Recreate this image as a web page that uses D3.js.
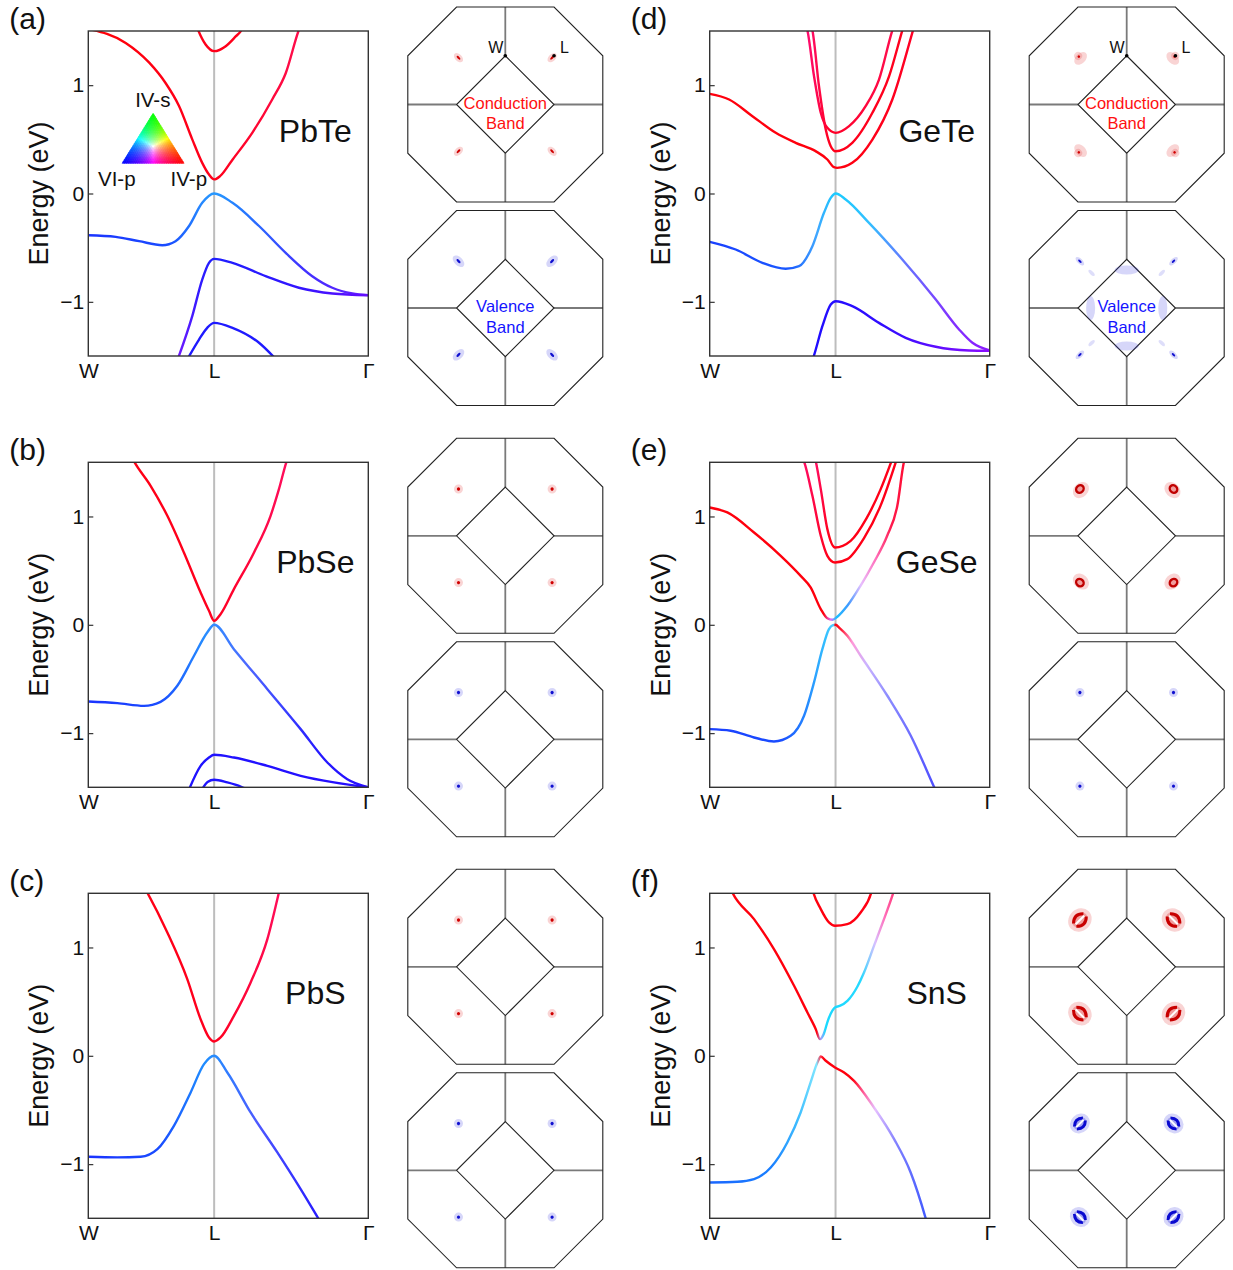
<!DOCTYPE html>
<html>
<head>
<meta charset="utf-8">
<script src="https://cdn.jsdelivr.net/npm/d3@7"></script>
<style>
  body { margin: 0; background: #fff; }
  text { font-family: "Liberation Sans", Arial, sans-serif; }
</style>
</head>
<body>
<div id="container"></div>
<script>
// k-path positions (2pi/a units): W -> L -> Gamma
const kW = 0, kL = 0.707, kG = 1.573;
const kTicks = [kW, kL, kG];
const kLabels = ["W", "L", "Γ"];
const energyTicks = [-1, 0, 1];
const energyRange = [-1.5, 1.5];

// bands: pts = [k, E(eV)], mix = [k, IV-p, IV-s, VI-p] orbital weights
const pbteBands = [
  { pts: [[0, 1.52], [0.21, 1.39], [0.341, 1.21], [0.434, 1.02], [0.509, 0.81], [0.584, 0.5], [0.64, 0.283], [0.678, 0.175], [0.707, 0.13], [0.74, 0.16], [0.809, 0.31], [0.921, 0.56], [1.034, 0.87], [1.109, 1.11], [1.183, 1.51], [1.195, 1.56]],
    mix: [[0, 1, 0, 0.02], [0.6, 1, 0, 0.1], [0.707, 1, 0, 0.1], [1.2, 1, 0.05, 0.3]] },
  { pts: [[0.605, 1.56], [0.618, 1.505], [0.659, 1.375], [0.707, 1.314], [0.772, 1.36], [0.828, 1.45], [0.861, 1.51], [0.875, 1.56]],
    mix: [[0.6, 1, 0, 0.1], [0.9, 1, 0, 0.1]] },
  { pts: [[0, -0.385], [0.154, -0.4], [0.285, -0.44], [0.416, -0.477], [0.49, -0.44], [0.566, -0.3], [0.64, -0.086], [0.707, 0], [0.81, -0.086], [0.959, -0.3], [1.109, -0.548], [1.258, -0.763], [1.371, -0.87], [1.483, -0.923], [1.573, -0.938]],
    mix: [[0, 0.1, 0.2, 1], [0.45, 0.1, 0.3, 1], [0.65, 0.15, 0.55, 1], [0.707, 0.15, 0.6, 1], [0.9, 0.15, 0.45, 1], [1.2, 0.25, 0.2, 1], [1.573, 0.4, 0.1, 1]] },
  { pts: [[0.498, -1.55], [0.584, -1.132], [0.64, -0.794], [0.678, -0.64], [0.707, -0.603], [0.81, -0.64], [0.996, -0.763], [1.183, -0.87], [1.371, -0.923], [1.573, -0.94]],
    mix: [[0.5, 0.45, 0.1, 1], [0.62, 0.2, 0.1, 1], [0.707, 0.12, 0.12, 1], [1.2, 0.2, 0.08, 1], [1.573, 0.4, 0.05, 1]] },
  { pts: [[0.56, -1.52], [0.622, -1.348], [0.668, -1.24], [0.707, -1.194], [0.81, -1.24], [0.959, -1.378], [1.06, -1.54]],
    mix: [[0.5, 0.12, 0.1, 1], [1.1, 0.12, 0.1, 1]] },
];

const pbseBands = [
  { pts: [[0.24, 1.56], [0.257, 1.508], [0.35, 1.283], [0.444, 1.006], [0.537, 0.668], [0.631, 0.298], [0.678, 0.129], [0.707, 0.037], [0.743, 0.098], [0.818, 0.329], [0.931, 0.668], [1.024, 1.006], [1.071, 1.252], [1.114, 1.508], [1.125, 1.56]],
    mix: [[0.2, 1, 0, 0.08], [0.707, 1, 0, 0.12], [1.1, 1, 0.05, 0.35]] },
  { pts: [[0, -0.708], [0.163, -0.723], [0.313, -0.748], [0.406, -0.711], [0.5, -0.563], [0.594, -0.286], [0.668, -0.071], [0.707, 0], [0.818, -0.225], [1.006, -0.594], [1.193, -0.963], [1.343, -1.271], [1.455, -1.425], [1.573, -1.5]],
    mix: [[0, 0.1, 0.2, 1], [0.4, 0.1, 0.3, 1], [0.65, 0.15, 0.55, 1], [0.707, 0.2, 0.55, 1], [0.9, 0.3, 0.4, 1], [1.3, 0.15, 0.1, 1], [1.573, 0.15, 0.05, 1]] },
  { pts: [[0.558, -1.55], [0.631, -1.302], [0.678, -1.225], [0.707, -1.2], [0.818, -1.225], [1.006, -1.302], [1.193, -1.394], [1.38, -1.455], [1.573, -1.5]],
    mix: [[0.5, 0.12, 0.08, 1], [1.573, 0.15, 0.05, 1]] },
  { pts: [[0.635, -1.53], [0.67, -1.45], [0.707, -1.43], [0.781, -1.455], [0.859, -1.495], [0.88, -1.51]],
    mix: [[0.6, 0.12, 0.08, 1], [0.9, 0.12, 0.08, 1]] },
];

const pbsBands = [
  { pts: [[0.31, 1.57], [0.331, 1.508], [0.444, 1.138], [0.556, 0.708], [0.631, 0.338], [0.678, 0.169], [0.707, 0.132], [0.743, 0.169], [0.818, 0.369], [0.912, 0.677], [1.006, 1.077], [1.071, 1.508], [1.08, 1.57]],
    mix: [[0.3, 1, 0, 0.08], [0.707, 1, 0, 0.12], [1.08, 1, 0.05, 0.35]] },
  { pts: [[0, -0.932], [0.163, -0.938], [0.294, -0.932], [0.388, -0.862], [0.481, -0.646], [0.575, -0.338], [0.65, -0.077], [0.707, 0], [0.781, -0.154], [0.912, -0.523], [1.062, -0.892], [1.193, -1.231], [1.291, -1.498], [1.31, -1.55]],
    mix: [[0, 0.1, 0.2, 1], [0.4, 0.1, 0.3, 1], [0.65, 0.12, 0.55, 1], [0.707, 0.15, 0.55, 1], [0.95, 0.3, 0.35, 1], [1.3, 0.15, 0.1, 1]] },
];

const geteBands = [
  { pts: [[0, 0.92], [0.109, 0.868], [0.24, 0.714], [0.371, 0.56], [0.483, 0.468], [0.595, 0.391], [0.661, 0.314], [0.698, 0.243], [0.716, 0.237], [0.801, 0.283], [0.914, 0.498], [1.026, 0.868], [1.142, 1.505], [1.15, 1.55]],
    mix: [[0, 1, 0, 0.05], [0.707, 1, 0, 0.05], [1.15, 1, 0, 0.15]] },
  { pts: [[0.57, 1.55], [0.577, 1.505], [0.614, 0.99], [0.652, 0.59], [0.68, 0.437], [0.708, 0.39], [0.801, 0.468], [0.914, 0.745], [1.008, 1.083], [1.082, 1.505], [1.09, 1.55]],
    mix: [[0.57, 1, 0.05, 0.4], [0.68, 1, 0, 0.1], [1.09, 1, 0, 0.12]] },
  { pts: [[0.542, 1.55], [0.549, 1.505], [0.586, 1.083], [0.624, 0.745], [0.661, 0.606], [0.708, 0.56], [0.783, 0.622], [0.876, 0.806], [0.951, 1.052], [1.026, 1.505], [1.035, 1.55]],
    mix: [[0.54, 1, 0.05, 0.45], [0.68, 1, 0, 0.15], [1.03, 1, 0.05, 0.3]] },
  { pts: [[0, -0.446], [0.146, -0.517], [0.296, -0.64], [0.427, -0.695], [0.502, -0.671], [0.577, -0.486], [0.642, -0.178], [0.68, -0.04], [0.708, 0], [0.764, -0.055], [0.895, -0.271], [1.082, -0.609], [1.27, -0.978], [1.401, -1.255], [1.476, -1.378], [1.573, -1.449]],
    mix: [[0, 0.1, 0.25, 1], [0.45, 0.1, 0.35, 1], [0.6, 0.25, 0.65, 1], [0.708, 0.1, 0.8, 1], [0.9, 0.2, 0.75, 1], [1.1, 0.4, 0.45, 1], [1.35, 0.5, 0.2, 1], [1.573, 0.55, 0.1, 1]] },
  { pts: [[0.575, -1.55], [0.586, -1.495], [0.633, -1.225], [0.68, -1.025], [0.708, -0.994], [0.801, -1.04], [0.951, -1.194], [1.101, -1.332], [1.27, -1.415], [1.457, -1.449], [1.573, -1.452]],
    mix: [[0.57, 0.12, 0.05, 1], [1.0, 0.2, 0.05, 1], [1.573, 0.55, 0.05, 1]] },
];

const geseBands = [
  { pts: [[0, 1.083], [0.099, 1.037], [0.249, 0.852], [0.399, 0.637], [0.511, 0.452], [0.567, 0.345], [0.624, 0.145], [0.661, 0.06], [0.689, 0.046], [0.717, 0.074], [0.773, 0.175], [0.847, 0.36], [0.922, 0.575], [0.997, 0.822], [1.054, 1.098], [1.092, 1.508], [1.1, 1.55]],
    mix: [[0, 1, 0, 0.05], [0.64, 1, 0, 0.05], [0.68, 0.6, 0.3, 0.7], [0.71, 0.1, 0.75, 1], [0.78, 0.25, 0.6, 1], [0.85, 0.9, 0.75, 1], [0.93, 1, 0.45, 0.75], [1.02, 1, 0.1, 0.3], [1.1, 1, 0.05, 0.2]] },
  { pts: [[0.52, 1.55], [0.53, 1.508], [0.577, 1.191], [0.624, 0.822], [0.661, 0.637], [0.704, 0.575], [0.773, 0.606], [0.867, 0.8], [0.96, 1.1], [1.055, 1.55]],
    mix: [[0.52, 1, 0.05, 0.4], [0.68, 1, 0, 0.08], [1.06, 1, 0, 0.1]] },
  { pts: [[0.59, 1.55], [0.596, 1.508], [0.624, 1.252], [0.661, 0.883], [0.704, 0.714], [0.792, 0.775], [0.88, 0.98], [0.96, 1.25], [1.03, 1.55]],
    mix: [[0.59, 1, 0.05, 0.4], [0.68, 1, 0, 0.08], [1.03, 1, 0, 0.1]] },
  { pts: [[0, -0.963], [0.118, -0.978], [0.249, -1.04], [0.361, -1.077], [0.455, -1.025], [0.53, -0.84], [0.586, -0.532], [0.633, -0.225], [0.67, -0.04], [0.69, -0.005], [0.707, 0], [0.73, -0.03], [0.773, -0.1], [0.848, -0.286], [0.998, -0.655], [1.129, -1.022], [1.26, -1.495], [1.275, -1.55]],
    mix: [[0, 0.1, 0.25, 1], [0.4, 0.1, 0.3, 1], [0.55, 0.15, 0.55, 1], [0.65, 0.2, 0.75, 1], [0.695, 0.3, 0.8, 1], [0.705, 1, 0, 0.05], [0.74, 1, 0.1, 0.2], [0.8, 1, 0.6, 0.85], [0.88, 0.8, 0.7, 1], [1.0, 0.55, 0.55, 1], [1.27, 0.3, 0.3, 1]] },
];

const snsBands = [
  { pts: [[0.115, 1.55], [0.127, 1.508], [0.249, 1.262], [0.361, 0.985], [0.474, 0.646], [0.549, 0.4], [0.596, 0.246], [0.62, 0.154], [0.64, 0.2], [0.665, 0.33], [0.69, 0.42], [0.704, 0.446], [0.73, 0.46], [0.775, 0.51], [0.83, 0.64], [0.867, 0.769], [0.923, 1.015], [0.979, 1.262], [1.032, 1.508], [1.04, 1.55]],
    mix: [[0.1, 1, 0, 0.05], [0.6, 1, 0, 0.05], [0.625, 0.5, 0.5, 0.8], [0.65, 0.1, 0.85, 1], [0.85, 0.15, 0.85, 1], [0.93, 0.85, 0.75, 1], [0.98, 1, 0.45, 0.75], [1.04, 1, 0.2, 0.45]] },
  { pts: [[0.575, 1.55], [0.582, 1.508], [0.624, 1.354], [0.67, 1.231], [0.704, 1.2], [0.773, 1.215], [0.848, 1.323], [0.908, 1.508], [0.915, 1.55]],
    mix: [[0.57, 1, 0, 0.05], [0.92, 1, 0, 0.08]] },
  { pts: [[0, -1.169], [0.155, -1.163], [0.249, -1.138], [0.343, -1.031], [0.436, -0.8], [0.511, -0.523], [0.567, -0.246], [0.605, -0.062], [0.624, -0.006], [0.652, -0.046], [0.704, -0.108], [0.755, -0.154], [0.811, -0.231], [0.923, -0.477], [1.036, -0.769], [1.129, -1.077], [1.213, -1.498], [1.222, -1.55]],
    mix: [[0, 0.1, 0.4, 1], [0.35, 0.1, 0.5, 1], [0.5, 0.25, 0.75, 1], [0.6, 0.5, 0.9, 1], [0.622, 0.9, 0.2, 0.3], [0.64, 1, 0, 0.05], [0.8, 1, 0, 0.05], [0.87, 1, 0.4, 0.65], [0.93, 0.9, 0.75, 1], [1.05, 0.5, 0.5, 1], [1.22, 0.25, 0.35, 1]] },
];

const plotW = 280, plotH = 325, R = 97.5;

const panels = [
  { tag: "(a)", name: "PbTe", left: 88.3, top: 31, bands: pbteBands, cb: "pbte-cb", vb: "pbte-vb", legend: true, bzText: true },
  { tag: "(b)", name: "PbSe", left: 88.3, top: 462.3, bands: pbseBands, cb: "dot", vb: "dot" },
  { tag: "(c)", name: "PbS", left: 88.3, top: 893.3, bands: pbsBands, cb: "dot", vb: "dot" },
  { tag: "(d)", name: "GeTe", left: 709.7, top: 31, bands: geteBands, cb: "gete-cb", vb: "gete-vb", bzText: true },
  { tag: "(e)", name: "GeSe", left: 709.7, top: 462.3, bands: geseBands, cb: "gese-cb", vb: "dot" },
  { tag: "(f)", name: "SnS", left: 709.7, top: 893.3, bands: snsBands, cb: "sns-cb", vb: "sns-vb" },
];

function mixColor(p, s, v) {
  const m = Math.max(p, s, v);
  return d3.rgb(255 * p / m, 255 * s / m, 255 * v / m).formatHex();
}

const svg = d3.select("#container").append("svg")
  .attr("width", 1233)
  .attr("height", 1270)
  .style("background", "#fff");
const defs = svg.append("defs");

const x = d3.scaleLinear().domain([kW, kG]).range([0, plotW]);
const y = d3.scaleLinear().domain(energyRange).range([plotH, 0]);
const line = d3.line().x((d) => x(d[0])).y((d) => y(d[1])).curve(d3.curveMonotoneX);
const font = '"Liberation Sans", Arial, sans-serif';

panels.forEach((p, pi) => {
  const g = svg.append("g").attr("transform", `translate(${p.left},${p.top})`);

  defs.append("clipPath").attr("id", `clip${pi}`)
    .append("rect").attr("width", plotW).attr("height", plotH);

  // L line
  g.append("line")
    .attr("x1", x(kL)).attr("x2", x(kL))
    .attr("y1", 0).attr("y2", plotH)
    .attr("stroke", "#bdbdbd").attr("stroke-width", 2);

  const bandG = g.append("g").attr("clip-path", `url(#clip${pi})`);
  p.bands.forEach((b, bi) => {
    const gid = `grad${pi}_${bi}`;
    const grad = defs.append("linearGradient").attr("id", gid)
      .attr("gradientUnits", "userSpaceOnUse")
      .attr("x1", 0).attr("x2", plotW).attr("y1", 0).attr("y2", 0);
    b.mix.forEach(([k, wp, ws, wv]) => {
      grad.append("stop")
        .attr("offset", Math.max(0, Math.min(1, x(k) / plotW)))
        .attr("stop-color", mixColor(wp, ws, wv));
    });
    bandG.append("path")
      .attr("d", line(b.pts))
      .attr("fill", "none")
      .attr("stroke", `url(#${gid})`)
      .attr("stroke-width", 2.4)
      .attr("stroke-linejoin", "round");
  });

  // frame
  g.append("rect").attr("width", plotW).attr("height", plotH)
    .attr("fill", "none").attr("stroke", "#333").attr("stroke-width", 1.4);

  const yAxis = g.append("g")
    .call(d3.axisLeft(y).tickValues(energyTicks).tickFormat(d3.format("d")).tickSize(-5).tickPadding(4));
  yAxis.select(".domain").remove();
  yAxis.selectAll("line").attr("stroke", "#333").attr("stroke-width", 1.2);
  yAxis.selectAll("text").attr("font-size", 21).attr("fill", "#111").style("font-family", font);

  const xAxis = g.append("g").attr("transform", `translate(0,${plotH})`)
    .call(d3.axisBottom(x).tickValues(kTicks).tickFormat((d, i) => kLabels[i]).tickSize(0).tickPadding(7));
  xAxis.select(".domain").remove();
  xAxis.selectAll("text").attr("font-size", 21).attr("fill", "#111").style("font-family", font);

  g.append("text")
    .attr("transform", `translate(-40,${plotH / 2}) rotate(-90)`)
    .attr("text-anchor", "middle")
    .attr("font-size", 27)
    .attr("fill", "#111")
    .text("Energy (eV)");

  g.append("text")
    .attr("x", 227).attr("y", 111)
    .attr("text-anchor", "middle")
    .attr("font-size", 32)
    .attr("fill", "#111")
    .text(p.name);

  svg.append("text")
    .attr("x", p.left - 79).attr("y", p.top - 2)
    .attr("font-size", 30)
    .attr("fill", "#111")
    .text(p.tag);

  if (p.legend) drawLegend(g);

  const cx = p.left + 417;
  drawBZ(cx, p.top + 73.5, p.cb, "cb", p.bzText);
  drawBZ(cx, p.top + 277, p.vb, "vb", p.bzText);
});

function drawLegend(g) {
  const T = [64.8, 82.3], A = [33.8, 132.3], B = [95.8, 132.3]; // IV-s, VI-p, IV-p
  const N = 28;
  const tg = g.append("g");
  const pt = (i, j) => {
    const a = i / N, b = j / N, t = 1 - a - b;
    return [t * T[0] + a * A[0] + b * B[0], t * T[1] + a * A[1] + b * B[1]];
  };
  const tri = (pts, w) => {
    const c = mixColor(w[2], w[0], w[1]);
    tg.append("path")
      .attr("d", "M" + pts.map((q) => q.join(",")).join("L") + "Z")
      .attr("fill", c).attr("stroke", c).attr("stroke-width", 0.6);
  };
  for (let i = 0; i < N; i++) {
    for (let j = 0; j < N - i; j++) {
      const a = (i + 1 / 3) / N, b = (j + 1 / 3) / N;
      tri([pt(i, j), pt(i + 1, j), pt(i, j + 1)], [1 - a - b, a, b]);
      if (i + j < N - 1) {
        const a2 = (i + 2 / 3) / N, b2 = (j + 2 / 3) / N;
        tri([pt(i + 1, j), pt(i + 1, j + 1), pt(i, j + 1)], [1 - a2 - b2, a2, b2]);
      }
    }
  }
  const lab = [["IV-s", 64.5, 76], ["VI-p", 28.5, 155], ["IV-p", 100.5, 155]];
  lab.forEach(([t, lx, ly]) => {
    g.append("text").attr("x", lx).attr("y", ly)
      .attr("text-anchor", "middle").attr("font-size", 20.5).attr("fill", "#111").text(t);
  });
}

function drawBZ(cx, cy, style, kind, withText) {
  const g = svg.append("g").attr("transform", `translate(${cx},${cy})`);
  const h = R / 2;
  const oct = [[-h, -R], [h, -R], [R, -h], [R, h], [h, R], [-h, R], [-R, h], [-R, -h]];
  const dia = [[0, -h], [h, 0], [0, h], [-h, 0]];
  const gray = [[[0, -R], [0, -h]], [[0, h], [0, R]], [[-R, 0], [-h, 0]], [[h, 0], [R, 0]]];
  gray.forEach(([a, b]) => {
    g.append("line").attr("x1", a[0]).attr("y1", a[1]).attr("x2", b[0]).attr("y2", b[1])
      .attr("stroke", "#7a7a7a").attr("stroke-width", 1.8);
  });
  const poly = (pts) => "M" + pts.map((q) => q.join(",")).join("L") + "Z";
  g.append("path").attr("d", poly(oct)).attr("fill", "none").attr("stroke", "#222").attr("stroke-width", 1.1);
  g.append("path").attr("d", poly(dia)).attr("fill", "none").attr("stroke", "#222").attr("stroke-width", 1.1);

  const light = kind === "cb" ? "rgba(225,40,40,0.2)" : "rgba(50,50,225,0.2)";
  const mid = kind === "cb" ? "rgba(220,30,30,0.3)" : "rgba(40,40,220,0.3)";
  const dark = kind === "cb" ? "#d00000" : "#1010d0";
  const pk = g.append("g");

  const corners = [[-1, -1], [1, -1], [-1, 1], [1, 1]];
  corners.forEach(([sx, sy]) => {
    const ang = Math.atan2(sy, sx) * 180 / Math.PI;
    const q = pk.append("g").attr("transform", `translate(${sx * 0.48 * R},${sy * 0.48 * R}) rotate(${ang})`);
    const ell = (ex, ey, rx, ry, fill) => q.append("ellipse").attr("cx", ex).attr("cy", ey).attr("rx", rx).attr("ry", ry).attr("fill", fill);
    if (style === "dot") {
      ell(0, 0, 4.5, 4.5, light);
      ell(0, 0, 1.6, 1.6, dark);
    } else if (style === "pbte-cb") {
      ell(0, 0, 5.5, 3.5, light);
      ell(0, 0, 2.4, 1.1, dark);
    } else if (style === "pbte-vb") {
      ell(0, 0, 7, 4.2, light);
      ell(0, 0, 2.6, 1.2, dark);
    } else if (style === "gete-cb") {
      ell(-1, 0, 5, 7.5, light);
      ell(2.5, 0, 4, 4, light);
      ell(1.5, 0, 1.3, 1.3, dark);
    } else if (style === "gete-vb") {
      ell(0, 0, 5.5, 2.6, light);
      ell(0, 0, 2.2, 1, dark);
      const inner = pk.append("g").attr("transform", `translate(${sx * 0.36 * R},${sy * 0.36 * R}) rotate(${ang})`);
      inner.append("ellipse").attr("rx", 4).attr("ry", 1.8).attr("fill", "rgba(50,50,225,0.16)");
    } else if (style === "gese-cb") {
      ell(-1.5, 0, 7, 9, light);
      ell(0, 0, 4, 4.5, mid);
      q.append("ellipse").attr("rx", 3.5).attr("ry", 4).attr("fill", "none")
        .attr("stroke", "#c00000").attr("stroke-width", 2.4);
    } else if (style === "sns-cb" || style === "sns-vb") {
      const s = style === "sns-cb" ? 1 : 0.85;
      const dk = style === "sns-cb" ? "#c80000" : "#0a0ad0";
      ell(0, 0, 11 * s, 12.5 * s, light);
      ell(0, 0, 7 * s, 8.5 * s, mid);
      q.append("path").attr("d", `M${-2 * s},${-7 * s}Q${-9 * s},0 ${-2 * s},${7 * s}`)
        .attr("fill", "none").attr("stroke", dk).attr("stroke-width", 3);
      q.append("path").attr("d", `M${2 * s},${-7 * s}Q${9 * s},0 ${2 * s},${7 * s}`)
        .attr("fill", "none").attr("stroke", dk).attr("stroke-width", 3);
      q.append("line").attr("x1", 0).attr("x2", 0).attr("y1", -6 * s).attr("y2", 6 * s)
        .attr("stroke", "#fff").attr("stroke-width", 2);
    }
  });
  if (style === "gete-vb") {
    pk.append("ellipse").attr("cx", 0).attr("cy", -0.39 * R).attr("rx", 12).attr("ry", 4.5).attr("fill", light);
    pk.append("ellipse").attr("cx", 0).attr("cy", 0.39 * R).attr("rx", 12).attr("ry", 4.5).attr("fill", light);
    pk.append("ellipse").attr("cx", -0.37 * R).attr("cy", 0).attr("rx", 4.5).attr("ry", 12).attr("fill", light);
    pk.append("ellipse").attr("cx", 0.37 * R).attr("cy", 0).attr("rx", 4.5).attr("ry", 12).attr("fill", light);
  }

  if (withText) {
    if (kind === "cb") {
      g.append("circle").attr("cx", 0).attr("cy", -h).attr("r", 1.8).attr("fill", "#000");
      g.append("circle").attr("cx", h).attr("cy", -h).attr("r", 1.8).attr("fill", "#000");
      g.append("text").attr("x", -2).attr("y", -h - 3).attr("text-anchor", "end")
        .attr("font-size", 16).attr("fill", "#111").text("W");
      g.append("text").attr("x", h + 6).attr("y", -h - 3)
        .attr("font-size", 16).attr("fill", "#111").text("L");
    }
    const col = kind === "cb" ? "#ff1010" : "#1414ff";
    const words = kind === "cb" ? ["Conduction", "Band"] : ["Valence", "Band"];
    g.append("text").attr("x", 0).attr("y", 4).attr("text-anchor", "middle")
      .attr("font-size", 16.5).attr("fill", col).text(words[0]);
    g.append("text").attr("x", 0).attr("y", 24.5).attr("text-anchor", "middle")
      .attr("font-size", 16.5).attr("fill", col).text(words[1]);
  }
}
</script>
</body>
</html>
